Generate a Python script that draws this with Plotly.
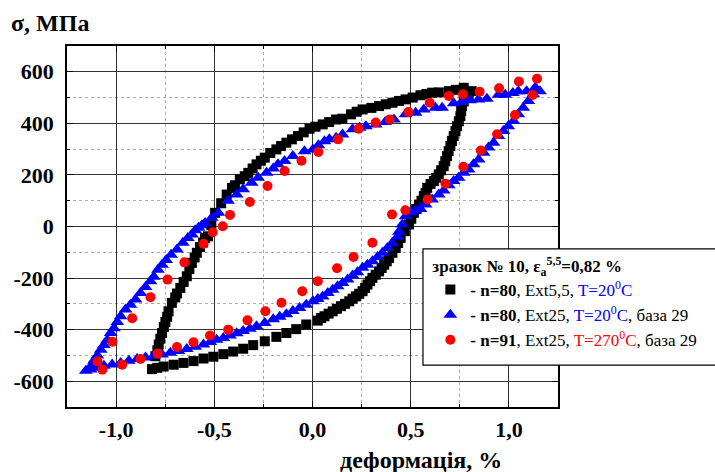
import plotly.graph_objects as go

# Ext5,5 extensometer, n=80, T=20 C (unloading branch, then reloading branch)
ext55_strain = [
    0.795, 0.78, 0.77, 0.761, 0.757, 0.753, 0.745, 0.736, 0.728, 0.719, 0.71, 0.702,
    0.693, 0.685, 0.676, 0.668, 0.655, 0.643, 0.63, 0.618, 0.601, 0.584, 0.576, 0.567,
    0.555, 0.542, 0.528, 0.516, 0.503, 0.491, 0.47, 0.449, 0.436, 0.424, 0.407, 0.39,
    0.378, 0.365, 0.352, 0.339, 0.322, 0.305, 0.293, 0.28, 0.268, 0.255, 0.238, 0.221,
    0.204, 0.187, 0.166, 0.145, 0.124, 0.103, 0.082, 0.061, 0.044, 0.027, -0.032, -0.083,
    -0.133, -0.184, -0.243, -0.302, -0.353, -0.404, -0.454, -0.505, -0.555, -0.606, -0.657,
    -0.707, -0.758, -0.79, -0.817,
    -0.8, -0.79, -0.783, -0.775, -0.766, -0.757, -0.749, -0.74, -0.733, -0.716, -0.699,
    -0.69, -0.673, -0.656, -0.64, -0.627, -0.614, -0.6, -0.589, -0.573, -0.557, -0.547,
    -0.532, -0.515, -0.496, -0.465, -0.437, -0.41, -0.395, -0.37, -0.345, -0.327, -0.305,
    -0.285, -0.263, -0.243, -0.215, -0.184, -0.16, -0.133, -0.105, -0.074, -0.045, -0.015,
    0.015, 0.052, 0.085, 0.12, 0.152, 0.196, 0.225, 0.255, 0.3, 0.339, 0.373, 0.407, 0.44,
    0.474, 0.51, 0.55, 0.58, 0.609, 0.643, 0.694, 0.73, 0.77, 0.81,
]
ext55_stress = [
    515, 500, 485, 467, 448, 428, 408, 389, 370, 351, 332, 312,
    292, 273, 253, 234, 218, 202, 189, 176, 165, 150, 130, 118,
    100, 85, 68, 53, 30, 8, -18, -44, -64, -83, -102, -122,
    -135, -148, -161, -174, -187, -199, -212, -225, -238, -251, -261, -271,
    -280, -290, -300, -309, -319, -329, -338, -348, -355, -365, -380, -398,
    -413, -428, -445, -460, -474, -485, -495, -505, -512, -522, -529,
    -536, -543, -548, -553,
    -503, -480, -458, -435, -413, -390, -370, -350, -329, -296, -275,
    -260, -238, -215, -193, -165, -141, -120, -102, -80, -62, -45,
    -38, 5, 53, 90, 124, 150, 160, 183, 195, 208, 225,
    241, 255, 267, 285, 299, 312, 325, 338, 351, 365, 379,
    387, 396, 405, 415, 418, 435, 445, 454, 460, 467, 474, 480, 487,
    493, 500, 509, 514, 519, 520, 525, 530, 538, 525,
]

# Ext25 extensometer, n=80, T=20 C, base 29
ext25_strain = [
    1.141, 1.124, 1.099, 1.073, 1.048, 1.023, 0.997, 0.972, 0.947, 0.922, 0.896, 0.871,
    0.846, 0.82, 0.795, 0.77, 0.744, 0.719, 0.694, 0.668, 0.643, 0.609, 0.576, 0.55,
    0.525, 0.5, 0.474, 0.457, 0.44, 0.432, 0.405, 0.381, 0.356, 0.331, 0.305, 0.28,
    0.255, 0.229, 0.204, 0.179, 0.153, 0.128, 0.103, 0.078, 0.052, 0.027, 0.002, -0.032,
    -0.066, -0.1, -0.133, -0.167, -0.2, -0.243, -0.285, -0.319, -0.353, -0.386, -0.42,
    -0.454, -0.488, -0.52, -0.555, -0.597, -0.64, -0.682, -0.724, -0.766, -0.808, -0.85,
    -0.893, -0.935, -0.977, -1.02, -1.062, -1.1, -1.129, -1.154,
    -1.129, -1.112, -1.095, -1.078, -1.062, -1.045, -1.028, -1.011, -0.994, -0.977,
    -0.952, -0.927, -0.901, -0.876, -0.85, -0.825, -0.808, -0.787, -0.766, -0.745, -0.72,
    -0.69, -0.66, -0.635, -0.614, -0.597, -0.58, -0.563, -0.547, -0.513, -0.479, -0.43,
    -0.386, -0.353, -0.31, -0.277, -0.234, -0.2, -0.176, -0.142, -0.1, -0.041, 0.002,
    0.03, 0.061, 0.086, 0.12, 0.153, 0.204, 0.24, 0.272, 0.322, 0.37, 0.415, 0.474,
    0.525, 0.567, 0.626, 0.66, 0.719, 0.76, 0.803, 0.845, 0.888, 0.947, 0.981, 1.02,
    1.048, 1.09, 1.133, 1.158,
]
ext25_stress = [
    532, 513, 487, 461, 435, 409, 389, 370, 351, 325, 306, 286,
    260, 241, 221, 208, 189, 176, 160, 140, 124, 105, 85, 68,
    62, 55, 40, 8, -20, -40, -65, -83, -102, -118, -135, -148,
    -160, -177, -190, -206, -219, -232, -245, -258, -271, -281, -290, -303,
    -316, -328, -340, -350, -360, -374, -387, -397, -405, -414, -423,
    -432, -439, -448, -458, -466, -475, -483, -490, -496, -501, -508,
    -514, -521, -529, -535, -540, -548, -555, -559,
    -542, -520, -500, -478, -460, -440, -413, -395, -370, -348,
    -322, -303, -283, -258, -235, -212, -195, -168, -148, -130, -110,
    -89, -63, -45, -31, -15, -5, 5, 14, 34, 53, 100,
    124, 144, 170, 189, 208, 225, 241, 254, 273, 292, 299,
    315, 331, 338, 344, 357, 377, 383, 389, 396, 405, 415, 435,
    441, 454, 461, 461, 478, 483, 490, 493, 495, 511, 511, 518,
    525, 525, 538, 525,
]

# Ext25 extensometer, n=91, T=270 C, base 29
hot_strain = [
    1.121, 1.031, 0.94, 0.857, 0.768, 0.677, 0.586, 0.473, 0.405, 0.305, 0.209, 0.125,
    0.027, -0.052, -0.158, -0.24, -0.331, -0.429, -0.522, -0.606, -0.69, -0.788, -0.876,
    -0.969, -1.07,
    -1.095, -1.019, -0.918, -0.825, -0.738, -0.652, -0.555, -0.508, -0.457, -0.42, -0.319,
    -0.229, -0.142, -0.056, 0.03, 0.13, 0.235, 0.322, 0.393, 0.488, 0.597, 0.694, 0.766,
    0.851, 0.95, 1.051, 1.143,
]
hot_stress = [
    510, 432, 358, 295, 232, 166, 105, 63, 47, -63, -118, -162,
    -212, -251, -296, -329, -364, -400, -423, -449, -467, -493, -514,
    -536, -555,
    -523, -447, -356, -274, -206, -139, -67, -22, 1, 45, 95,
    157, 215, 255, 289, 338, 379, 403, 415, 444, 480, 506, 513,
    523, 536, 562, 573,
]

x_tick_vals = [-1.0, -0.5, 0.0, 0.5, 1.0]
x_tick_text = ["-1,0", "-0,5", "0,0", "0,5", "1,0"]
y_tick_vals = [600, 400, 200, 0, -200, -400, -600]
y_tick_text = ["600", "400", "200", "0", "-200", "-400", "-600"]

SERIF = "Liberation Serif"

fig = go.Figure()
fig.add_trace(go.Scatter(
    x=ext55_strain, y=ext55_stress, mode="markers",
    name="<b>- n=80</b>, Ext5,5, <span style='color:#0000ff'>T=20<sup>0</sup>C</span>",
    marker=dict(symbol="square", size=10, color="#000000"),
    legendgroup="a",
))
fig.add_trace(go.Scatter(
    x=ext25_strain, y=ext25_stress, mode="markers",
    name="<b>- n=80</b>, Ext25, <span style='color:#0000ff'>T=20<sup>0</sup>C</span>, база 29",
    marker=dict(symbol="triangle-up", size=12, color="#0000ff"),
    legendgroup="b",
))
fig.add_trace(go.Scatter(
    x=hot_strain, y=hot_stress, mode="markers",
    name="<b>- n=91</b>, Ext25, <span style='color:#ff0000'>T=270<sup>0</sup>C</span>, база 29",
    marker=dict(symbol="circle", size=10, color="#ff0000"),
    legendgroup="c",
))

axis_common = dict(
    showline=True, linecolor="#000000", linewidth=1.5, mirror="allticks",
    ticks="inside", ticklen=6, tickcolor="#000000", tickwidth=1,
    showgrid=True, gridcolor="#333333", gridwidth=1, zeroline=False,
    tickfont=dict(family=SERIF, size=22, color="#000000", weight="bold"),
)

fig.update_xaxes(
    range=[-1.25, 1.25], tickvals=x_tick_vals, ticktext=x_tick_text,
    minor=dict(dtick=0.25, tick0=0, showgrid=True, gridcolor="#aaaaaa",
               griddash="dot", gridwidth=1, ticks="inside", ticklen=3,
               tickcolor="#000000"),
    ticklabelstandoff=2,
    **axis_common,
)
fig.update_yaxes(
    range=[-700, 700], tickvals=y_tick_vals, ticktext=y_tick_text,
    minor=dict(dtick=100, tick0=0, showgrid=True, gridcolor="#aaaaaa",
               griddash="dot", gridwidth=1, ticks="inside", ticklen=3,
               tickcolor="#000000"),
    ticklabelstandoff=7,
    **axis_common,
)

fig.update_layout(
    width=715, height=472,
    margin=dict(l=67, r=157, t=46, b=65),
    paper_bgcolor="#ffffff", plot_bgcolor="#ffffff",
    font=dict(family=SERIF, color="#000000"),
    showlegend=True,
    legend=dict(
        x=0.74, y=0.435, xanchor="left", yanchor="top",
        bgcolor="rgba(0,0,0,0)", borderwidth=0,
        font=dict(family=SERIF, size=17, color="#000000"),
        title=dict(text="<b>зразок № 10, ε<sub>a</sub><sup>5,5</sup>=0,82 %</b>",
                   font=dict(family=SERIF, size=17, color="#000000")),
        tracegroupgap=0,
    ),
    shapes=[dict(type="rect", xref="paper", yref="paper",
                 x0=0.725, x1=1.5, y0=0.116, y1=0.438,
                 line=dict(color="#000000", width=1.2),
                 fillcolor="#ffffff", layer="above")],
    annotations=[
        dict(text="<b>σ, МПа</b>", xref="paper", yref="paper",
             x=-0.119, y=1.063, xanchor="left", yanchor="middle",
             showarrow=False, font=dict(family=SERIF, size=24, color="#000000")),
        dict(text="<b>деформація, %</b>", xref="paper", yref="paper",
             x=0.72, y=-0.148, xanchor="center", yanchor="middle",
             showarrow=False, font=dict(family=SERIF, size=24, color="#000000")),
    ],
)

fig.write_html("out.html")
